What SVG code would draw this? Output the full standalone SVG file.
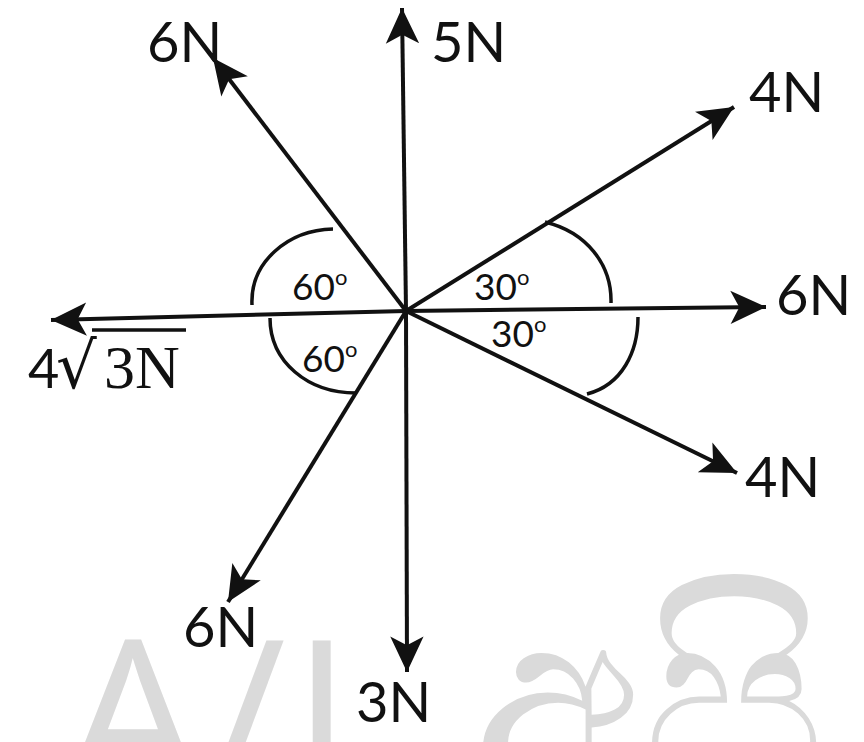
<svg xmlns="http://www.w3.org/2000/svg" width="864" height="742" viewBox="0 0 864 742">
<style>
.lbl{font-family:Lato,"Open Sans",sans-serif;font-size:56px;fill:#111}
.ang{font-family:Lato,"Open Sans",sans-serif;font-size:37px;fill:#111}
.sup{font-size:22px}
.vec{stroke:#111;stroke-width:4;fill:none;marker-end:url(#ah)}
.arc{stroke:#111;stroke-width:3.5;fill:none}
.wm{font-family:"Open Sans",sans-serif;fill:#dadada}
</style>
<defs>
<marker id="ah" markerUnits="userSpaceOnUse" markerWidth="40" markerHeight="40" viewBox="-34 -16 36 32" refX="0" refY="0" orient="auto">
<path d="M0,0 L-32,-15 L-24,0 L-32,15 Z" fill="#111"/>
</marker>
</defs>
<rect width="864" height="742" fill="#fff"/>
<g id="watermark">
<text class="wm" x="65" y="794" font-size="215" letter-spacing="6">A/L</text>
<text class="wm" x="472" y="800" font-size="275" font-family="'Noto Sans Sinhala','Noto Sans',sans-serif">අපි</text>
</g>
<g id="connectors">
<line class="vec" x1="406" y1="311" x2="402" y2="8"/>
<line class="vec" x1="406" y1="311" x2="407" y2="672"/>
<line class="vec" x1="406" y1="311" x2="51" y2="320"/>
<line class="vec" x1="406" y1="311" x2="766" y2="307"/>
<line class="vec" x1="406" y1="311" x2="213" y2="58"/>
<line class="vec" x1="406" y1="311" x2="734" y2="107"/>
<line class="vec" x1="406" y1="311" x2="737" y2="473"/>
<line class="vec" x1="406" y1="311" x2="228" y2="602"/>
</g>
<g id="arcs">
<path class="arc" d="M252,305 C250,262 288,230 333,229"/>
<path class="arc" d="M270,318 C270,362 308,393 356,393"/>
<path class="arc" d="M545,222 C586,232 612,264 611,303"/>
<path class="arc" d="M638,317 C638,352 622,385 587,394"/>
</g>
<g id="label-5N"><text class="lbl" x="431" y="62">5N</text></g>
<g id="label-6N-ul"><text class="lbl" x="147" y="62">6N</text></g>
<g id="label-4N-ur"><text class="lbl" x="749" y="112">4N</text></g>
<g id="label-6N-r"><text class="lbl" x="776" y="315">6N</text></g>
<g id="label-4N-lr"><text class="lbl" x="745" y="497">4N</text></g>
<g id="label-3N"><text class="lbl" x="356" y="722">3N</text></g>
<g id="label-6N-ll"><text class="lbl" x="183" y="647">6N</text></g>
<g id="label-4r3N">
<text y="388" font-family="Lato,'Open Sans',sans-serif" font-size="54" fill="#111"><tspan x="28">4</tspan><tspan x="56" font-family="'DejaVu Serif','Liberation Serif',serif" font-size="64">√</tspan><tspan x="104" font-family="'Liberation Serif',serif" font-size="62">3N</tspan></text>
<line x1="92" y1="330" x2="186" y2="330" stroke="#111" stroke-width="3.5"/>
</g>
<g id="angles">
<text class="ang" x="292" y="300">60<tspan class="sup" dy="-15">o</tspan></text>
<text class="ang" x="302" y="372">60<tspan class="sup" dy="-15">o</tspan></text>
<text class="ang" x="474" y="300">30<tspan class="sup" dy="-15">o</tspan></text>
<text class="ang" x="491" y="347">30<tspan class="sup" dy="-15">o</tspan></text>
</g>
</svg>
